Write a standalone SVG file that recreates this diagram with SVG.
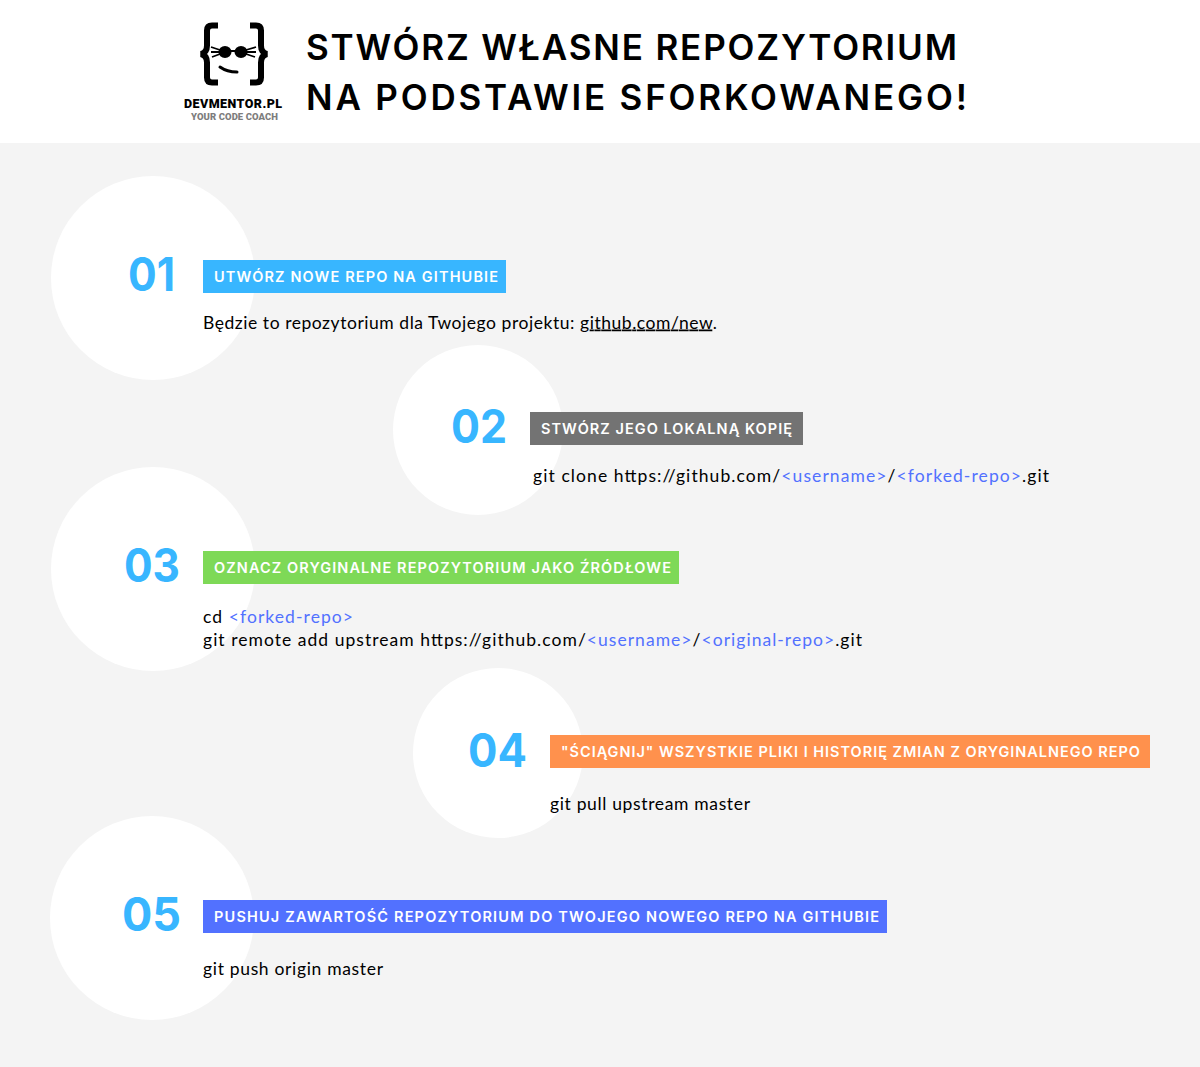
<svg xmlns="http://www.w3.org/2000/svg" width="1200" height="1067" viewBox="0 0 1200 1067">
<style>
.title{font:600 35px "Inter","Liberation Sans",sans-serif;fill:#000}
.num{font:700 46px "Inter","Liberation Sans",sans-serif;fill:#38b6ff}
.lab{font:600 14.5px "Inter","Liberation Sans",sans-serif;fill:#fff}
.body{font:400 17.5px "Lato","Liberation Sans",sans-serif;fill:#000}
.v{fill:#5271ff}
.c{fill:#fff}
</style>
<rect width="1200" height="1067" fill="#f4f4f4"/>
<rect width="1200" height="143" fill="#fff"/>
<g id="logo">
<path d="M218 25.500h-6q-5 0-5 5v15q0 7-6 8.500 6 1.500 6 8.500v15q0 5 5 5h6" fill="none" stroke="#000" stroke-width="6"/>
<path d="M250 25.500h6q5 0 5 5v15q0 7 6 8.500-6 1.500-6 8.500v15q0 5-5 5h-6" fill="none" stroke="#000" stroke-width="6"/>
<ellipse cx="225" cy="52" rx="6.500" ry="6"/><ellipse cx="241" cy="52" rx="6.500" ry="6"/>
<path d="M211 47l9 3M211 52l9 0M212 57l8-3M256 47l-10 3M256 52l-10 0M255 57l-9-3M230 51h6" stroke="#000" stroke-width="1.800" fill="none"/>
<path d="M220 67q7 5 17 5" fill="none" stroke="#000" stroke-width="3" stroke-linecap="round"/>
<text x="184" y="108" font-family="Roboto,sans-serif" font-weight="900" font-size="12.500" textLength="98" lengthAdjust="spacing">DEVMENTOR.PL</text>
<text x="191" y="120" font-family="Roboto,sans-serif" font-weight="900" font-size="9.500" fill="#7d7d7d" textLength="87" lengthAdjust="spacing">YOUR CODE COACH</text>
</g>
<g id="title">
<text class="title" x="306" y="60" textLength="651" lengthAdjust="spacing">STWÓRZ WŁASNE REPOZYTORIUM</text>
<text class="title" x="306" y="110" textLength="661" lengthAdjust="spacing">NA PODSTAWIE SFORKOWANEGO!</text>
</g>
<g id="step-01">
<circle class="c" cx="153" cy="278" r="102"/>
<text class="num" x="128" y="291" textLength="47" lengthAdjust="spacingAndGlyphs">01</text>
<rect x="203" y="260" width="303" height="33" fill="#38b6ff"/>
<text class="lab" x="214" y="282" textLength="284">UTWÓRZ NOWE REPO NA GITHUBIE</text>
<text class="body" x="203" y="328.500" textLength="514">Będzie to repozytorium dla Twojego projektu: <tspan text-decoration="underline">github.com/new</tspan>.</text>
</g>
<g id="step-02">
<circle class="c" cx="478" cy="430" r="85"/>
<text class="num" x="451" y="443" textLength="56" lengthAdjust="spacingAndGlyphs">02</text>
<rect x="530" y="412" width="273" height="33" fill="#737373"/>
<text class="lab" x="541" y="434" textLength="251">STWÓRZ JEGO LOKALNĄ KOPIĘ</text>
<text class="body" x="533" y="481.500" textLength="516">git clone https://github.com/<tspan class="v">&lt;username&gt;</tspan>/<tspan class="v">&lt;forked-repo&gt;</tspan>.git</text>
</g>
<g id="step-03">
<circle class="c" cx="153" cy="569" r="102"/>
<text class="num" x="124" y="582" textLength="56" lengthAdjust="spacingAndGlyphs">03</text>
<rect x="203" y="551" width="476" height="33" fill="#7ed957"/>
<text class="lab" x="214" y="573" textLength="457">OZNACZ ORYGINALNE REPOZYTORIUM JAKO ŹRÓDŁOWE</text>
<text class="body" x="203" y="622.500" textLength="150">cd <tspan class="v">&lt;forked-repo&gt;</tspan></text>
<text class="body" x="203" y="645.500" textLength="659">git remote add upstream https://github.com/<tspan class="v">&lt;username&gt;</tspan>/<tspan class="v">&lt;original-repo&gt;</tspan>.git</text>
</g>
<g id="step-04">
<circle class="c" cx="498" cy="753" r="85"/>
<text class="num" x="468" y="767" textLength="59" lengthAdjust="spacingAndGlyphs">04</text>
<rect x="550" y="735" width="600" height="33" fill="#ff914d"/>
<text class="lab" x="561" y="757" textLength="579">"ŚCIĄGNIJ" WSZYSTKIE PLIKI I HISTORIĘ ZMIAN Z ORYGINALNEGO REPO</text>
<text class="body" x="550" y="809.500" textLength="200">git pull upstream master</text>
</g>
<g id="step-05">
<circle class="c" cx="152" cy="918" r="102"/>
<text class="num" x="122" y="931" textLength="59" lengthAdjust="spacingAndGlyphs">05</text>
<rect x="203" y="900" width="684" height="33" fill="#5271ff"/>
<text class="lab" x="214" y="922" textLength="665">PUSHUJ ZAWARTOŚĆ REPOZYTORIUM DO TWOJEGO NOWEGO REPO NA GITHUBIE</text>
<text class="body" x="203" y="974.500" textLength="180">git push origin master</text>
</g>
<g id="connectors"/>
</svg>
